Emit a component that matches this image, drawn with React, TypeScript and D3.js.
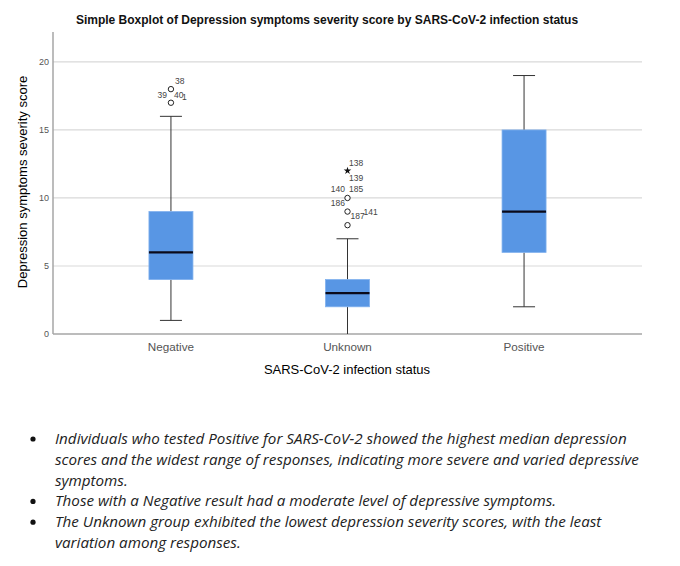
import React from 'react';
import * as d3 from 'd3';

// Box statistics
const categories = ['Negative', 'Unknown', 'Positive'];
const whiskerLow = [1, 0, 2];
const q1 = [4, 2, 6];
const median = [6, 3, 9];
const q3 = [9, 4, 15];
const whiskerHigh = [16, 7, 19];

// Outliers: group, value, symbol
const outlierGroups = ['Negative', 'Negative', 'Unknown', 'Unknown', 'Unknown', 'Unknown'];
const outlierValues = [18, 17, 12, 10, 9, 8];
const outlierKinds = ['circle', 'circle', 'star', 'circle', 'circle', 'circle'];

// Case labels attached to outliers (group, value, case id)
const labelGroups = ['Negative', 'Negative', 'Negative', 'Negative', 'Unknown', 'Unknown', 'Unknown', 'Unknown', 'Unknown', 'Unknown', 'Unknown'];
const labelValues = [18, 17, 17, 17, 12, 12, 10, 10, 10, 9, 9];
const labelTexts = ['38', '39', '40', '1', '138', '139', '140', '185', '186', '187', '141'];

const yTicks = [0, 5, 10, 15, 20];

const bullets = [
  [
    'Individuals who tested Positive for SARS-CoV-2 showed the highest median depression',
    'scores and the widest range of responses, indicating more severe and varied depressive',
    'symptoms.',
  ],
  ['Those with a Negative result had a moderate level of depressive symptoms.'],
  [
    'The Unknown group exhibited the lowest depression severity scores, with the least',
    'variation among responses.',
  ],
];

// label placement around the marker: [dx, dy, anchor]
const labelOffset: Record<string, [number, number, string]> = {
  '38': [4, -5, 'start'],
  '39': [-4, -5, 'end'],
  '40': [3, -5, 'start'],
  '1': [11, -3, 'start'],
  '138': [1.5, -5, 'start'],
  '139': [1.5, 10, 'start'],
  '140': [-2.5, -5.5, 'end'],
  '185': [1.5, -5.5, 'start'],
  '186': [-2.5, 8, 'end'],
  '187': [3, 7.5, 'start'],
  '141': [16, 3.5, 'start'],
};

const W = 680;
const H = 566;
const plot = { left: 53, right: 642, top: 32, bottom: 334 };
const font = '"Liberation Sans", Arial, sans-serif';

export default function App() {
  const x = d3.scalePoint<string>()
    .domain(categories)
    .range([plot.left, plot.right])
    .padding(0.668);
  const y = d3.scaleLinear().domain([0, 22.2]).range([plot.bottom, plot.top]);

  const boxW = 44;
  const capW = 22;
  const star = d3.symbol().type(d3.symbolStar).size(18)() as string;

  return (
    <div style={{ position: 'absolute', left: 0, top: 0 }}>
      <svg width={W} height={H} style={{ display: 'block', background: '#fff' }}>
        <text x={327} y={24} textAnchor="middle" fontFamily={font} fontSize={12} fontWeight="bold" fill="#111">
          Simple Boxplot of Depression symptoms severity score by SARS-CoV-2 infection status
        </text>

        {/* gridlines */}
        {yTicks.filter(t => t > 0).map(t => (
          <line key={t} x1={plot.left} x2={plot.right} y1={y(t)} y2={y(t)} stroke="#d9d9d9" strokeWidth={1.2} />
        ))}
        {yTicks.map(t => (
          <text key={'t' + t} x={49} y={y(t) + 3} textAnchor="end" fontFamily={font} fontSize={9} fill="#555">
            {t}
          </text>
        ))}

        {/* axes */}
        <line x1={plot.left} x2={plot.left} y1={plot.top} y2={plot.bottom} stroke="#a6a6a6" strokeWidth={1.5} />
        <line x1={plot.left} x2={plot.right} y1={plot.bottom} y2={plot.bottom} stroke="#a6a6a6" strokeWidth={1.5} />

        {categories.map((c, i) => {
          const cx = x(c)!;
          return (
            <g key={c}>
              <line x1={cx} x2={cx} y1={y(whiskerLow[i])} y2={y(q1[i])} stroke="#333" strokeWidth={1} />
              <line x1={cx} x2={cx} y1={y(q3[i])} y2={y(whiskerHigh[i])} stroke="#333" strokeWidth={1} />
              {whiskerLow[i] > 0 && (
                <line x1={cx - capW / 2} x2={cx + capW / 2} y1={y(whiskerLow[i])} y2={y(whiskerLow[i])} stroke="#333" strokeWidth={1} />
              )}
              <line x1={cx - capW / 2} x2={cx + capW / 2} y1={y(whiskerHigh[i])} y2={y(whiskerHigh[i])} stroke="#333" strokeWidth={1} />
              <rect
                x={cx - boxW / 2}
                y={y(q3[i])}
                width={boxW}
                height={y(q1[i]) - y(q3[i])}
                fill="#5896e4"
                stroke="#7fb0ee"
                strokeWidth={0.8}
              />
              <line x1={cx - boxW / 2} x2={cx + boxW / 2} y1={y(median[i])} y2={y(median[i])} stroke="#0a0a1a" strokeWidth={2.2} />
              <text x={cx} y={351} textAnchor="middle" fontFamily={font} fontSize={11.7} fill="#555">
                {c}
              </text>
            </g>
          );
        })}

        {/* outliers */}
        {outlierValues.map((v, i) => {
          const cx = x(outlierGroups[i])!;
          const cy = y(v);
          return outlierKinds[i] === 'star' ? (
            <path key={i} d={star} transform={`translate(${cx},${cy})`} fill="#111" />
          ) : (
            <circle key={i} cx={cx} cy={cy} r={2.7} fill="#fff" stroke="#222" strokeWidth={1} />
          );
        })}
        {labelTexts.map((t, i) => {
          const [dx, dy, anchor] = labelOffset[t];
          return (
            <text
              key={t}
              x={x(labelGroups[i])! + dx}
              y={y(labelValues[i]) + dy}
              textAnchor={anchor as any}
              fontFamily={font}
              fontSize={8.5}
              fill="#444"
            >
              {t}
            </text>
          );
        })}

        {/* axis titles */}
        <text x={347} y={374} textAnchor="middle" fontFamily={font} fontSize={13} fill="#000">
          SARS-CoV-2 infection status
        </text>
        <text
          transform={`translate(27,182) rotate(-90)`}
          textAnchor="middle"
          fontFamily={font}
          fontSize={13}
          fill="#000"
        >
          Depression symptoms severity score
        </text>

        {/* bullet notes */}
        {(() => {
          let line = 0;
          return bullets.map((b, bi) => {
            const startLine = line;
            line += b.length;
            return (
              <g key={bi}>
                <circle cx={33} cy={439 + startLine * 20.8} r={2.6} fill="#111" />
                {b.map((s, si) => (
                  <text
                    key={si}
                    x={55}
                    y={444 + (startLine + si) * 20.8}
                    fontFamily='"Open Sans", Lato, sans-serif'
                    fontStyle="italic"
                    fontSize={15.2}
                    fill="#222"
                  >
                    {s}
                  </text>
                ))}
              </g>
            );
          });
        })()}
      </svg>
    </div>
  );
}
